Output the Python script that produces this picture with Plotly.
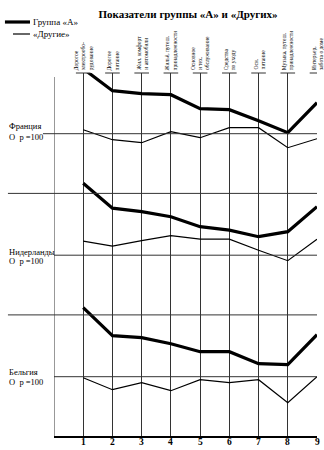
import plotly.graph_objects as go

# ---------------- data ----------------
categories = [1, 2, 3, 4, 5, 6, 7, 8, 9]
cat_labels = [
    "Дорогое<br>электрообо-<br>рудование",
    "Дорогое<br>питание",
    "Жил. комфорт<br>и автомобили",
    "Жильё, путеш.<br>принадлежности",
    "Основное<br>и тех.<br>обслуживание",
    "Средства<br>по уходу",
    "Осн.<br>питание",
    "Музыка, путеш.<br>принадлежности",
    "Интерьер,<br>забота о доме",
]
tick_labels = ["1", "2", "3", "4", "5", "6", "7", "8", "9"]

countries = ["Франция", "Нидерланды", "Бельгия"]
france_group_a = [165, 143, 140, 139, 125, 124, 113, 101, 131]
france_others = [104, 94, 91, 102, 96, 106, 106, 86, 95]
nl_group_a = [172, 147, 143.5, 138.5, 128.5, 125, 118.5, 123.5, 148.5]
nl_others = [114, 109, 114.5, 119.5, 116, 116, 105, 94.5, 116]
be_group_a = [169, 141, 139, 133, 125, 125, 113, 112, 142]
be_others = [99, 87, 94, 86, 97, 94, 97, 74, 100]
base_value = 100

# ---------------- layout helpers ----------------
W, H = 324, 450
L, R, T, B = 54, 7.3, 73, 14
PW, PH = W - L - R, H - T - B
panel_step = 121.5
offsets = [0, -panel_step, -2 * panel_step]
y_top = 60.7
y_bot = y_top - PH

def px_x(px):
    return (px - L) / PW

def px_y(py):
    return (H - B - py) / PH

SERIF = "Liberation Serif, Times New Roman, serif"
fig = go.Figure()

series = [
    (france_group_a, france_others),
    (nl_group_a, nl_others),
    (be_group_a, be_others),
]
for (ga, ot), off, name in zip(series, offsets, countries):
    fig.add_trace(go.Scatter(x=categories, y=[v - base_value + off for v in ga],
                             mode="lines", line=dict(color="black", width=3.2),
                             name="Группа «А» – " + name, showlegend=False))
    fig.add_trace(go.Scatter(x=categories, y=[v - base_value + off for v in ot],
                             mode="lines", line=dict(color="black", width=1.2),
                             name="«Другие» – " + name, showlegend=False))

shapes = []
annotations = []
# baselines (=100) and separators
base_starts = [43, 54, 54]
for off, xs in zip(offsets, base_starts):
    shapes.append(dict(type="line", xref="paper", yref="y", x0=px_x(xs), x1=1,
                       y0=off, y1=off, line=dict(color="#333", width=1)))
for off in offsets[:2]:
    ys = off - 59.7
    shapes.append(dict(type="line", xref="paper", yref="y", x0=px_x(8), x1=1,
                       y0=ys, y1=ys, line=dict(color="#333", width=1)))
# left vertical line
shapes.append(dict(type="line", xref="x", yref="paper", x0=0, x1=0,
                   y0=0, y1=px_y(77), line=dict(color="#333", width=1)))
# label underline ticks
for c in categories:
    shapes.append(dict(type="line", xref="x", yref="paper", x0=c - 0.25, x1=c + 0.25,
                       y0=1, y1=1, line=dict(color="#333", width=1)))
# category labels
for c, lab in zip(categories, cat_labels):
    annotations.append(dict(x=c, y=1, xref="x", yref="paper", text=lab,
                            textangle=-90, showarrow=False, xanchor="center",
                            yanchor="bottom", yshift=1, align="left",
                            font=dict(family=SERIF, size=5.5, color="black")))
# x tick labels
for c, t in zip(categories, tick_labels):
    annotations.append(dict(x=c, y=0, xref="x", yref="paper", text="<b>" + t + "</b>",
                            showarrow=False, xanchor="center", yanchor="top",
                            yshift=1, font=dict(family=SERIF, size=9.5, color="black")))
# country labels
country_pos = [(126, 137), (252, 261), (372, 382)]
for name, (y1, y2) in zip(countries, country_pos):
    annotations.append(dict(x=px_x(7), y=px_y(y1), xref="paper", yref="paper",
                            text=name, showarrow=False, xanchor="left", yanchor="middle",
                            font=dict(family=SERIF, size=8.5, color="black")))
    annotations.append(dict(x=px_x(7), y=px_y(y2), xref="paper", yref="paper",
                            text="O  p =100", showarrow=False, xanchor="left", yanchor="middle",
                            font=dict(family=SERIF, size=8.5, color="black")))
# legend
shapes.append(dict(type="line", xref="paper", yref="paper", x0=px_x(5), x1=px_x(30),
                   y0=px_y(22), y1=px_y(22), line=dict(color="black", width=3.2)))
shapes.append(dict(type="line", xref="paper", yref="paper", x0=px_x(13), x1=px_x(30),
                   y0=px_y(34), y1=px_y(34), line=dict(color="black", width=1.2)))
annotations.append(dict(x=px_x(31), y=px_y(22), xref="paper", yref="paper",
                        text="Группа «А»", showarrow=False, xanchor="left", yanchor="middle",
                        font=dict(family=SERIF, size=9, color="black")))
annotations.append(dict(x=px_x(31), y=px_y(34), xref="paper", yref="paper",
                        text="«Другие»", showarrow=False, xanchor="left", yanchor="middle",
                        font=dict(family=SERIF, size=9, color="black")))

fig.update_layout(
    width=W, height=H,
    margin=dict(l=L, r=R, t=T, b=B, pad=0),
    paper_bgcolor="white", plot_bgcolor="white",
    title=dict(text="<b>Показатели группы «А» и «Других»</b>",
               x=188 / W, xanchor="center", xref="container",
               y=1 - 14 / H, yanchor="middle", yref="container",
               font=dict(family=SERIF, size=11, color="black")),
    shapes=shapes, annotations=annotations,
    xaxis=dict(range=[0, 9], tickvals=categories, showticklabels=False,
               showgrid=True, gridcolor="#333", gridwidth=1,
               showline=True, linecolor="black", linewidth=1.5,
               ticks="", zeroline=False, automargin=False),
    yaxis=dict(range=[y_bot, y_top], visible=False, showgrid=False,
               zeroline=False, automargin=False),
)

fig.write_html("out.html")
